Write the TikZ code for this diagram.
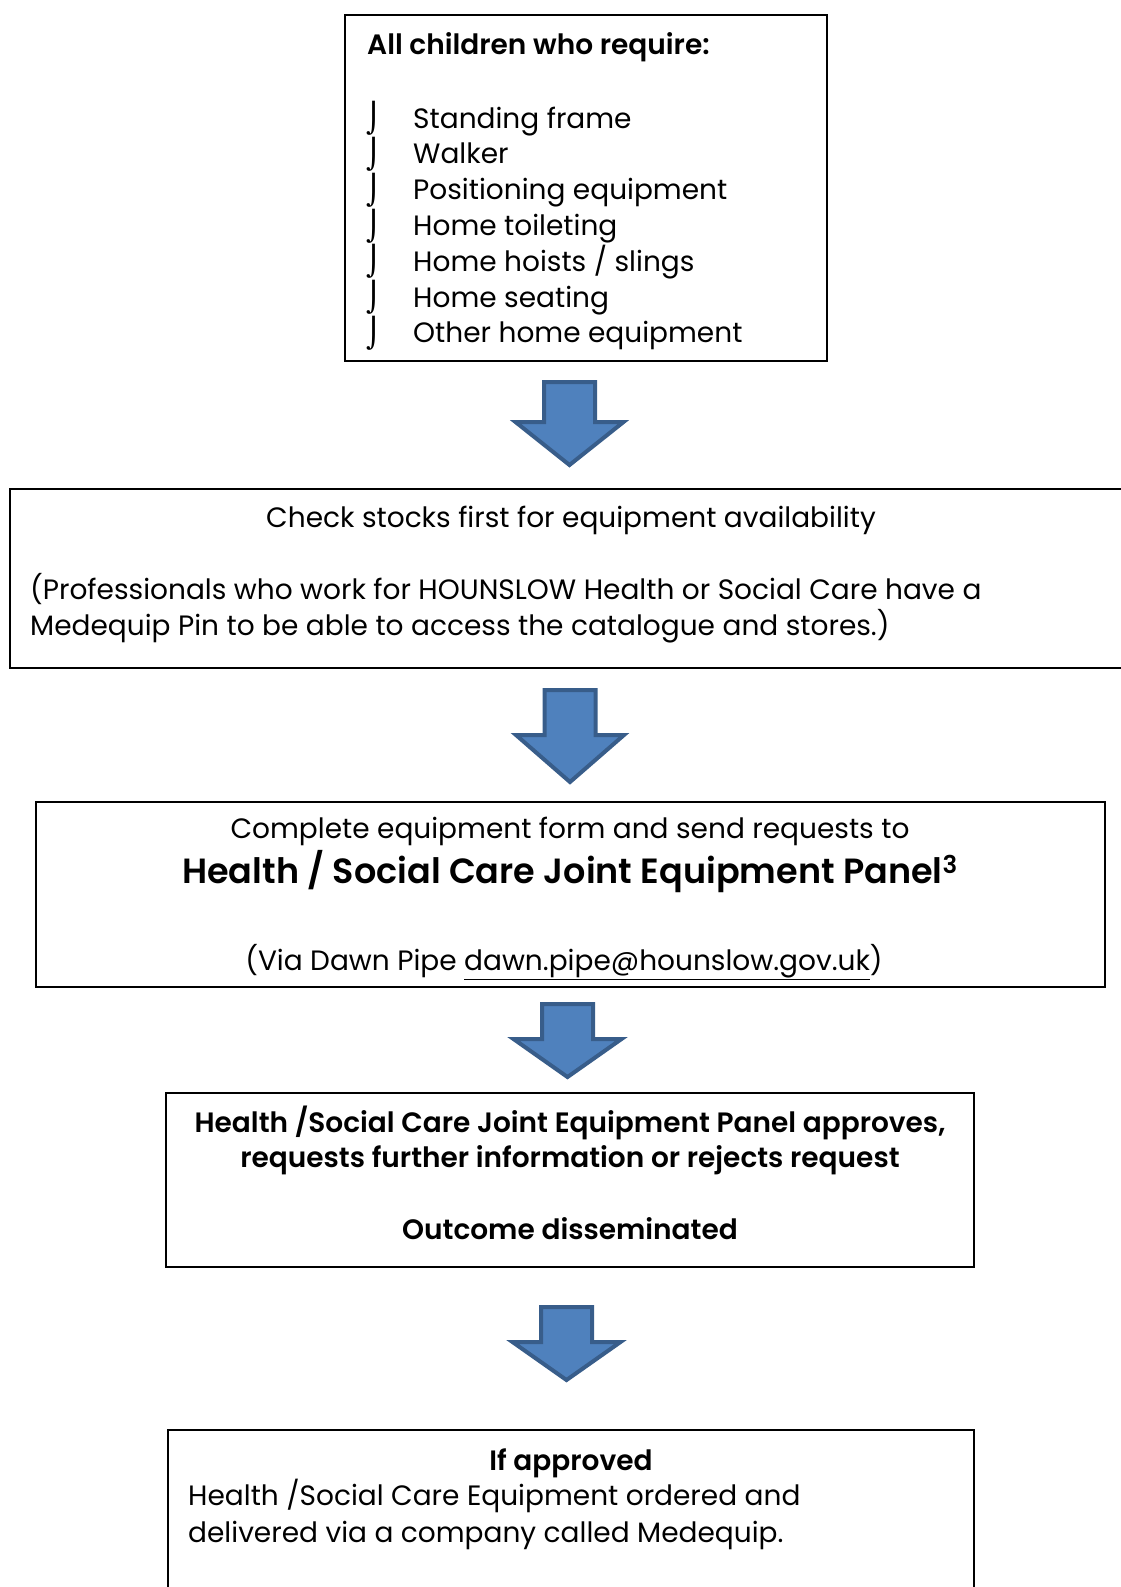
\documentclass[tikz,border=0pt]{standalone}
\usepackage{fontspec}
\setmainfont{Poppins}[BoldFont={Poppins SemiBold}]
\newfontfamily\symbfont{DejaVu Sans}
\usetikzlibrary{positioning}

\definecolor{arrowblue}{HTML}{4F81BD}
\definecolor{arrowedge}{HTML}{385D8A}

\tikzstyle{panel} = [rectangle, draw=black, line width=2.2pt, inner sep=0pt, outer sep=0pt, anchor=north west]
\tikzstyle{plain} = [inner sep=0pt, font=\fontsize{28}{36}\selectfont]
\tikzstyle{heavy} = [inner sep=0pt, font=\fontsize{28}{36}\selectfont\bfseries]
\tikzstyle{tick} = [inner sep=0pt, font=\fontsize{29}{36}\selectfont\symbfont]
\tikzstyle{bluearrow} = [fill=arrowblue, draw=arrowedge, line width=4pt, line join=miter]

% block arrow pointing down: top centre, shaft length, head length
\newcommand{\downblock}[3]{%
  \draw [bluearrow] (#1) ++(-25.5,0) -- ++(0,#2) -- ++(-28.5,0) -- ++(54,#3)
    -- ++(54,-#3) -- ++(-28.5,0) -- ++(0,-#2) -- cycle;}

\begin{document}
\begin{tikzpicture}[x=1pt, y=-1pt]
	\useasboundingbox (0,0) rectangle (1121,1587);

	\node (box1) [panel, minimum width=482pt, minimum height=346pt] at (345,15) {};
	\node (req) [heavy, anchor=base west] at (367,55) {All children who require:};
	\foreach \thing [count=\i] in {Standing frame, Walker, Positioning equipment, Home toileting, Home hoists / slings, Home seating, Other home equipment} {
		\node (tick\i) [tick] at (374,{118.5+35.8*(\i-1)}) {⌡};
		\node (item\i) [plain, anchor=base west] at (413,{128+35.8*(\i-1)}) {\thing};
	}

	\coordinate (arrow1) at (569.5,382);
	\downblock{arrow1}{40}{43}

	\node (box2) [panel, minimum width=1130pt, minimum height=179pt] at (10,489) {};
	\node (stock) [plain, anchor=base] at (571,527) {Check stocks first for equipment availability};
	\node (prof1) [plain, anchor=base west] at (30,599) {(Professionals who work for HOUNSLOW Health or Social Care have a};
	\node (prof2) [plain, anchor=base west] at (30,635) {Medequip Pin to be able to access the catalogue and stores.)};

	\coordinate (arrow2) at (570,690);
	\downblock{arrow2}{45}{47}

	\node (box3) [panel, minimum width=1069pt, minimum height=185pt] at (36,802) {};
	\node (form) [plain, anchor=base] at (570,838) {Complete equipment form and send requests to};
	\node (panel) [heavy, anchor=base, font=\fontsize{35}{42}\selectfont\bfseries] at (570,883) {Health / Social Care Joint Equipment Panel\textsuperscript{3}};
	\node (via) [plain, anchor=base] at (564,970) {(Via Dawn Pipe \underline{dawn.pipe@hounslow.gov.uk})};

	\coordinate (arrow3) at (567.5,1004);
	\downblock{arrow3}{35}{38}

	\node (box4) [panel, minimum width=808pt, minimum height=174pt] at (166,1093) {};
	\node (approve1) [heavy, anchor=base] at (570,1132) {Health /Social Care Joint Equipment Panel approves,};
	\node (approve2) [heavy, anchor=base] at (570,1167) {requests further information or rejects request};
	\node (outcome) [heavy, anchor=base] at (570,1239) {Outcome disseminated};

	\coordinate (arrow4) at (566.5,1307);
	\downblock{arrow4}{35}{38}

	\node (box5) [panel, minimum width=806pt, minimum height=200pt] at (168,1430) {};
	\node (ifok) [heavy, anchor=base] at (571,1470) {If approved};
	\node (order1) [plain, anchor=base west] at (188,1505) {Health /Social Care Equipment ordered and};
	\node (order2) [plain, anchor=base west] at (188,1542) {delivered via a company called Medequip.};
\end{tikzpicture}
\end{document}
